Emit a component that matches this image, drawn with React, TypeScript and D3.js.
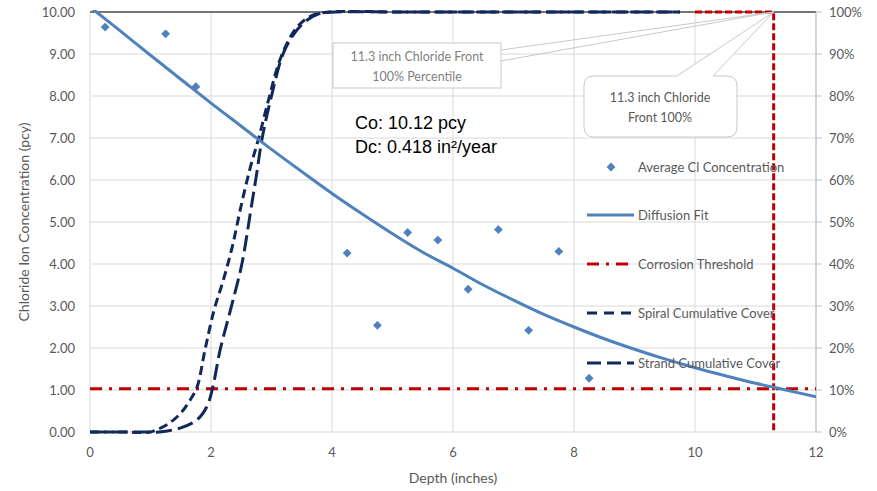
import React from 'react';
import * as d3 from 'd3';

// measured chloride concentrations (pcy) at depth (inches)
const sampleDepth = [0.25, 1.25, 1.75, 4.25, 4.75, 5.25, 5.75, 6.25, 6.75, 7.25, 7.75, 8.25];
const sampleConc = [9.64, 9.48, 8.22, 4.26, 2.54, 4.75, 4.57, 3.4, 4.82, 2.42, 4.3, 1.28];

// diffusion fit curve
const fitDepth = [0, 0.5, 1, 1.5, 2, 2.5, 3, 3.5, 4, 4.5, 5, 5.5, 6, 6.5, 7, 7.5, 8, 8.5, 9, 9.5, 10, 10.5, 11, 11.5, 12];
const fitConc = [10.12, 9.55, 8.97, 8.4, 7.83, 7.28, 6.73, 6.2, 5.68, 5.19, 4.72, 4.28, 3.9, 3.5, 3.14, 2.8, 2.5, 2.22, 1.97, 1.74, 1.53, 1.34, 1.16, 1.0, 0.84];

// corrosion threshold
const thresholdDepth = [0, 12];
const thresholdConc = [1.03, 1.03];

// cumulative cover (% of secondary axis)
const spiralDepth = [0, 0.5, 1.0, 1.1, 1.3, 1.5, 1.65, 1.77, 1.9, 2.05, 2.2, 2.35, 2.5, 2.65, 2.78, 2.95, 3.15, 3.4, 3.65, 3.95, 5, 6, 7, 8, 9, 9.75];
const spiralPct = [0, 0, 0, 0.5, 2, 4.5, 7.5, 10.7, 19.5, 29, 36, 44, 54, 63, 69.5, 79, 89, 96, 99, 100, 100, 100, 100, 100, 100, 100];
const strandDepth = [0, 0.5, 1.0, 1.15, 1.5, 1.77, 1.93, 2.03, 2.15, 2.33, 2.51, 2.66, 2.76, 2.84, 3.0, 3.22, 3.5, 3.77, 4.05, 5, 6, 7, 8, 9, 9.75];
const strandPct = [0, 0, 0, 0, 1, 2.9, 6, 10.7, 19.5, 29.5, 40, 53, 62, 69.5, 80, 91, 97, 99.5, 100, 100, 100, 100, 100, 100, 100];

// chloride front marker (depth 11.3)
const frontDepth = [10, 11.3, 11.3];
const frontPct = [100, 100, 0];

const xTicks = [0, 2, 4, 6, 8, 10, 12];
const yTicks = [0, 1, 2, 3, 4, 5, 6, 7, 8, 9, 10];
const pctTicks = [0, 10, 20, 30, 40, 50, 60, 70, 80, 90, 100];

const legendLabels = [
  'Average Cl Concentration',
  'Diffusion Fit',
  'Corrosion Threshold',
  'Spiral Cumulative Cover',
  'Strand Cumulative Cover',
];

const BLUE = '#4f81bd';
const NAVY = '#10285a';
const RED = '#c00000';
const GRID = '#d9d9d9';
const TXT = '#595959';
const FONT = 'Lato, "Open Sans", sans-serif';

const App = () => {
  const margin = { top: 12, right: 61, bottom: 59, left: 90 };
  const width = 877,
    height = 491;

  const x = d3.scaleLinear().domain([0, 12]).range([margin.left, width - margin.right]);
  const y = d3.scaleLinear().domain([0, 10]).range([height - margin.bottom, margin.top]);
  const y2 = d3.scaleLinear().domain([0, 100]).range([height - margin.bottom, margin.top]);

  const concLine = (xs, ys) =>
    d3
      .line()
      .x((d) => x(d[0]))
      .y((d) => y(d[1]))
      .curve(d3.curveMonotoneX)(xs.map((v, i) => [v, ys[i]]));

  const pctLine = (xs, ys, curve = d3.curveCatmullRom.alpha(0.5)) =>
    d3
      .line()
      .x((d) => x(d[0]))
      .y((d) => y2(d[1]))
      .curve(curve)(xs.map((v, i) => [v, ys[i]]));

  const diamond = d3.symbol().type(d3.symbolDiamond2).size(50)();

  const x0 = x(0),
    x1 = x(12),
    yTop = y(10),
    yBot = y(0);

  // callout anchor at the front / 100%
  const ax = x(11.3),
    ay = y2(100);

  const legendY = [167, 215, 264, 313, 363];

  return (
    <svg
      width={width}
      height={height}
      style={{ position: 'absolute', left: 0, top: 0, background: '#fff' }}
      fontFamily={FONT}
    >
      <defs>
        <clipPath id="plot">
          <rect x={x0} y={yTop - 2} width={x1 - x0} height={yBot - yTop + 4} />
        </clipPath>
      </defs>

      {/* gridlines */}
      {yTicks.map((t) => (
        <line key={'gy' + t} x1={x0} x2={x1} y1={y(t)} y2={y(t)} stroke={GRID} />
      ))}
      {xTicks.map((t) => (
        <line key={'gx' + t} x1={x(t)} x2={x(t)} y1={yTop} y2={yBot} stroke={GRID} />
      ))}
      <line x1={x0} x2={x1} y1={yTop} y2={yTop} stroke="#000" strokeWidth={1.2} />
      <line x1={x1} x2={x1} y1={yTop} y2={yBot} stroke="#bfbfbf" />
      {pctTicks.map((t) => (
        <line key={'rt' + t} x1={x1} x2={x1 + 6} y1={y2(t)} y2={y2(t)} stroke="#bfbfbf" />
      ))}

      {/* axis labels */}
      {yTicks.map((t) => (
        <text key={'yl' + t} x={75} y={y(t)} dy="0.35em" textAnchor="end" fontSize={13} fill={TXT}>
          {t.toFixed(2)}
        </text>
      ))}
      {pctTicks.map((t) => (
        <text key={'pl' + t} x={829} y={y2(t)} dy="0.35em" fontSize={13} fill={TXT}>
          {t + '%'}
        </text>
      ))}
      {xTicks.map((t) => (
        <text key={'xl' + t} x={x(t)} y={457} textAnchor="middle" fontSize={13} fill={TXT}>
          {t}
        </text>
      ))}
      <text x={453} y={483} textAnchor="middle" fontSize={14} fill={TXT}>
        Depth (inches)
      </text>
      <text
        transform={`translate(29,${(yTop + yBot) / 2}) rotate(-90)`}
        textAnchor="middle"
        fontSize={14}
        fill={TXT}
      >
        Chloride Ion Concentration (pcy)
      </text>

      <g clipPath="url(#plot)">
        {/* corrosion threshold */}
        <path
          d={concLine(thresholdDepth, thresholdConc)}
          fill="none"
          stroke={RED}
          strokeWidth={3}
          strokeDasharray="12,7,3,7"
        />
        {/* cumulative cover curves */}
        <path d={pctLine(spiralDepth, spiralPct)} fill="none" stroke={NAVY} strokeWidth={3} strokeDasharray="9,5" />
        <path d={pctLine(strandDepth, strandPct)} fill="none" stroke={NAVY} strokeWidth={3} strokeDasharray="16,6" />
        {/* front line */}
        <path
          d={pctLine(frontDepth, frontPct, d3.curveLinear)}
          fill="none"
          stroke={RED}
          strokeWidth={3}
          strokeDasharray="7,3"
        />
        {/* diffusion fit */}
        <path d={concLine(fitDepth, fitConc)} fill="none" stroke={BLUE} strokeWidth={3} />
        {/* samples */}
        {sampleDepth.map((d, i) => (
          <path key={'s' + i} d={diamond} transform={`translate(${x(d)},${y(sampleConc[i])})`} fill={BLUE} />
        ))}
      </g>

      {/* callout 1 */}
      <g>
        <line x1={501} y1={50} x2={ax} y2={ay} stroke="#c8c8c8" />
        <line x1={501} y1={61} x2={ax} y2={ay} stroke="#c8c8c8" />
        <rect x={333} y={43} width={168} height={45} fill="#fff" stroke="#c8c8c8" />
        <text x={417} y={61} textAnchor="middle" fontSize={12.5} fill="#7f7f7f">
          11.3  inch Chloride Front
        </text>
        <text x={417} y={81} textAnchor="middle" fontSize={12.5} fill="#7f7f7f">
          100%  Percentile
        </text>
      </g>

      {/* callout 2 */}
      <g>
        <path
          d={`M594,76 L677,76 L${ax},${ay} L713,76 L727,76 Q737,76 737,86 L737,127 Q737,137 727,137 L594,137 Q584,137 584,127 L584,86 Q584,76 594,76 Z`}
          fill="#fff"
          stroke="#c8c8c8"
        />
        <text x={660} y={102} textAnchor="middle" fontSize={12.5} fill={TXT}>
          11.3 inch Chloride
        </text>
        <text x={660} y={122} textAnchor="middle" fontSize={12.5} fill={TXT}>
          Front 100%
        </text>
      </g>

      {/* fit parameters */}
      <text x={355} y={129} fontSize={18} fontFamily="Liberation Sans, Arial, sans-serif" fill="#000">
        Co: 10.12 pcy
      </text>
      <text x={355} y={153} fontSize={18} fontFamily="Liberation Sans, Arial, sans-serif" fill="#000">
        Dc: 0.418 in²/year
      </text>

      {/* legend */}
      <g>
        <path d={diamond} transform={`translate(611,${legendY[0]})`} fill={BLUE} />
        <line x1={587} x2={634} y1={legendY[1]} y2={legendY[1]} stroke={BLUE} strokeWidth={3} />
        <line
          x1={587}
          x2={634}
          y1={legendY[2]}
          y2={legendY[2]}
          stroke={RED}
          strokeWidth={3}
          strokeDasharray="12,7,3,7"
        />
        <line x1={587} x2={634} y1={legendY[3]} y2={legendY[3]} stroke={NAVY} strokeWidth={3} strokeDasharray="10,7" />
        <line x1={587} x2={634} y1={legendY[4]} y2={legendY[4]} stroke={NAVY} strokeWidth={3} strokeDasharray="14,6" />
        {legendLabels.map((l, i) => (
          <text key={l} x={638} y={legendY[i]} dy="0.35em" fontSize={13} fill={TXT}>
            {l}
          </text>
        ))}
      </g>
    </svg>
  );
};

export default App;
